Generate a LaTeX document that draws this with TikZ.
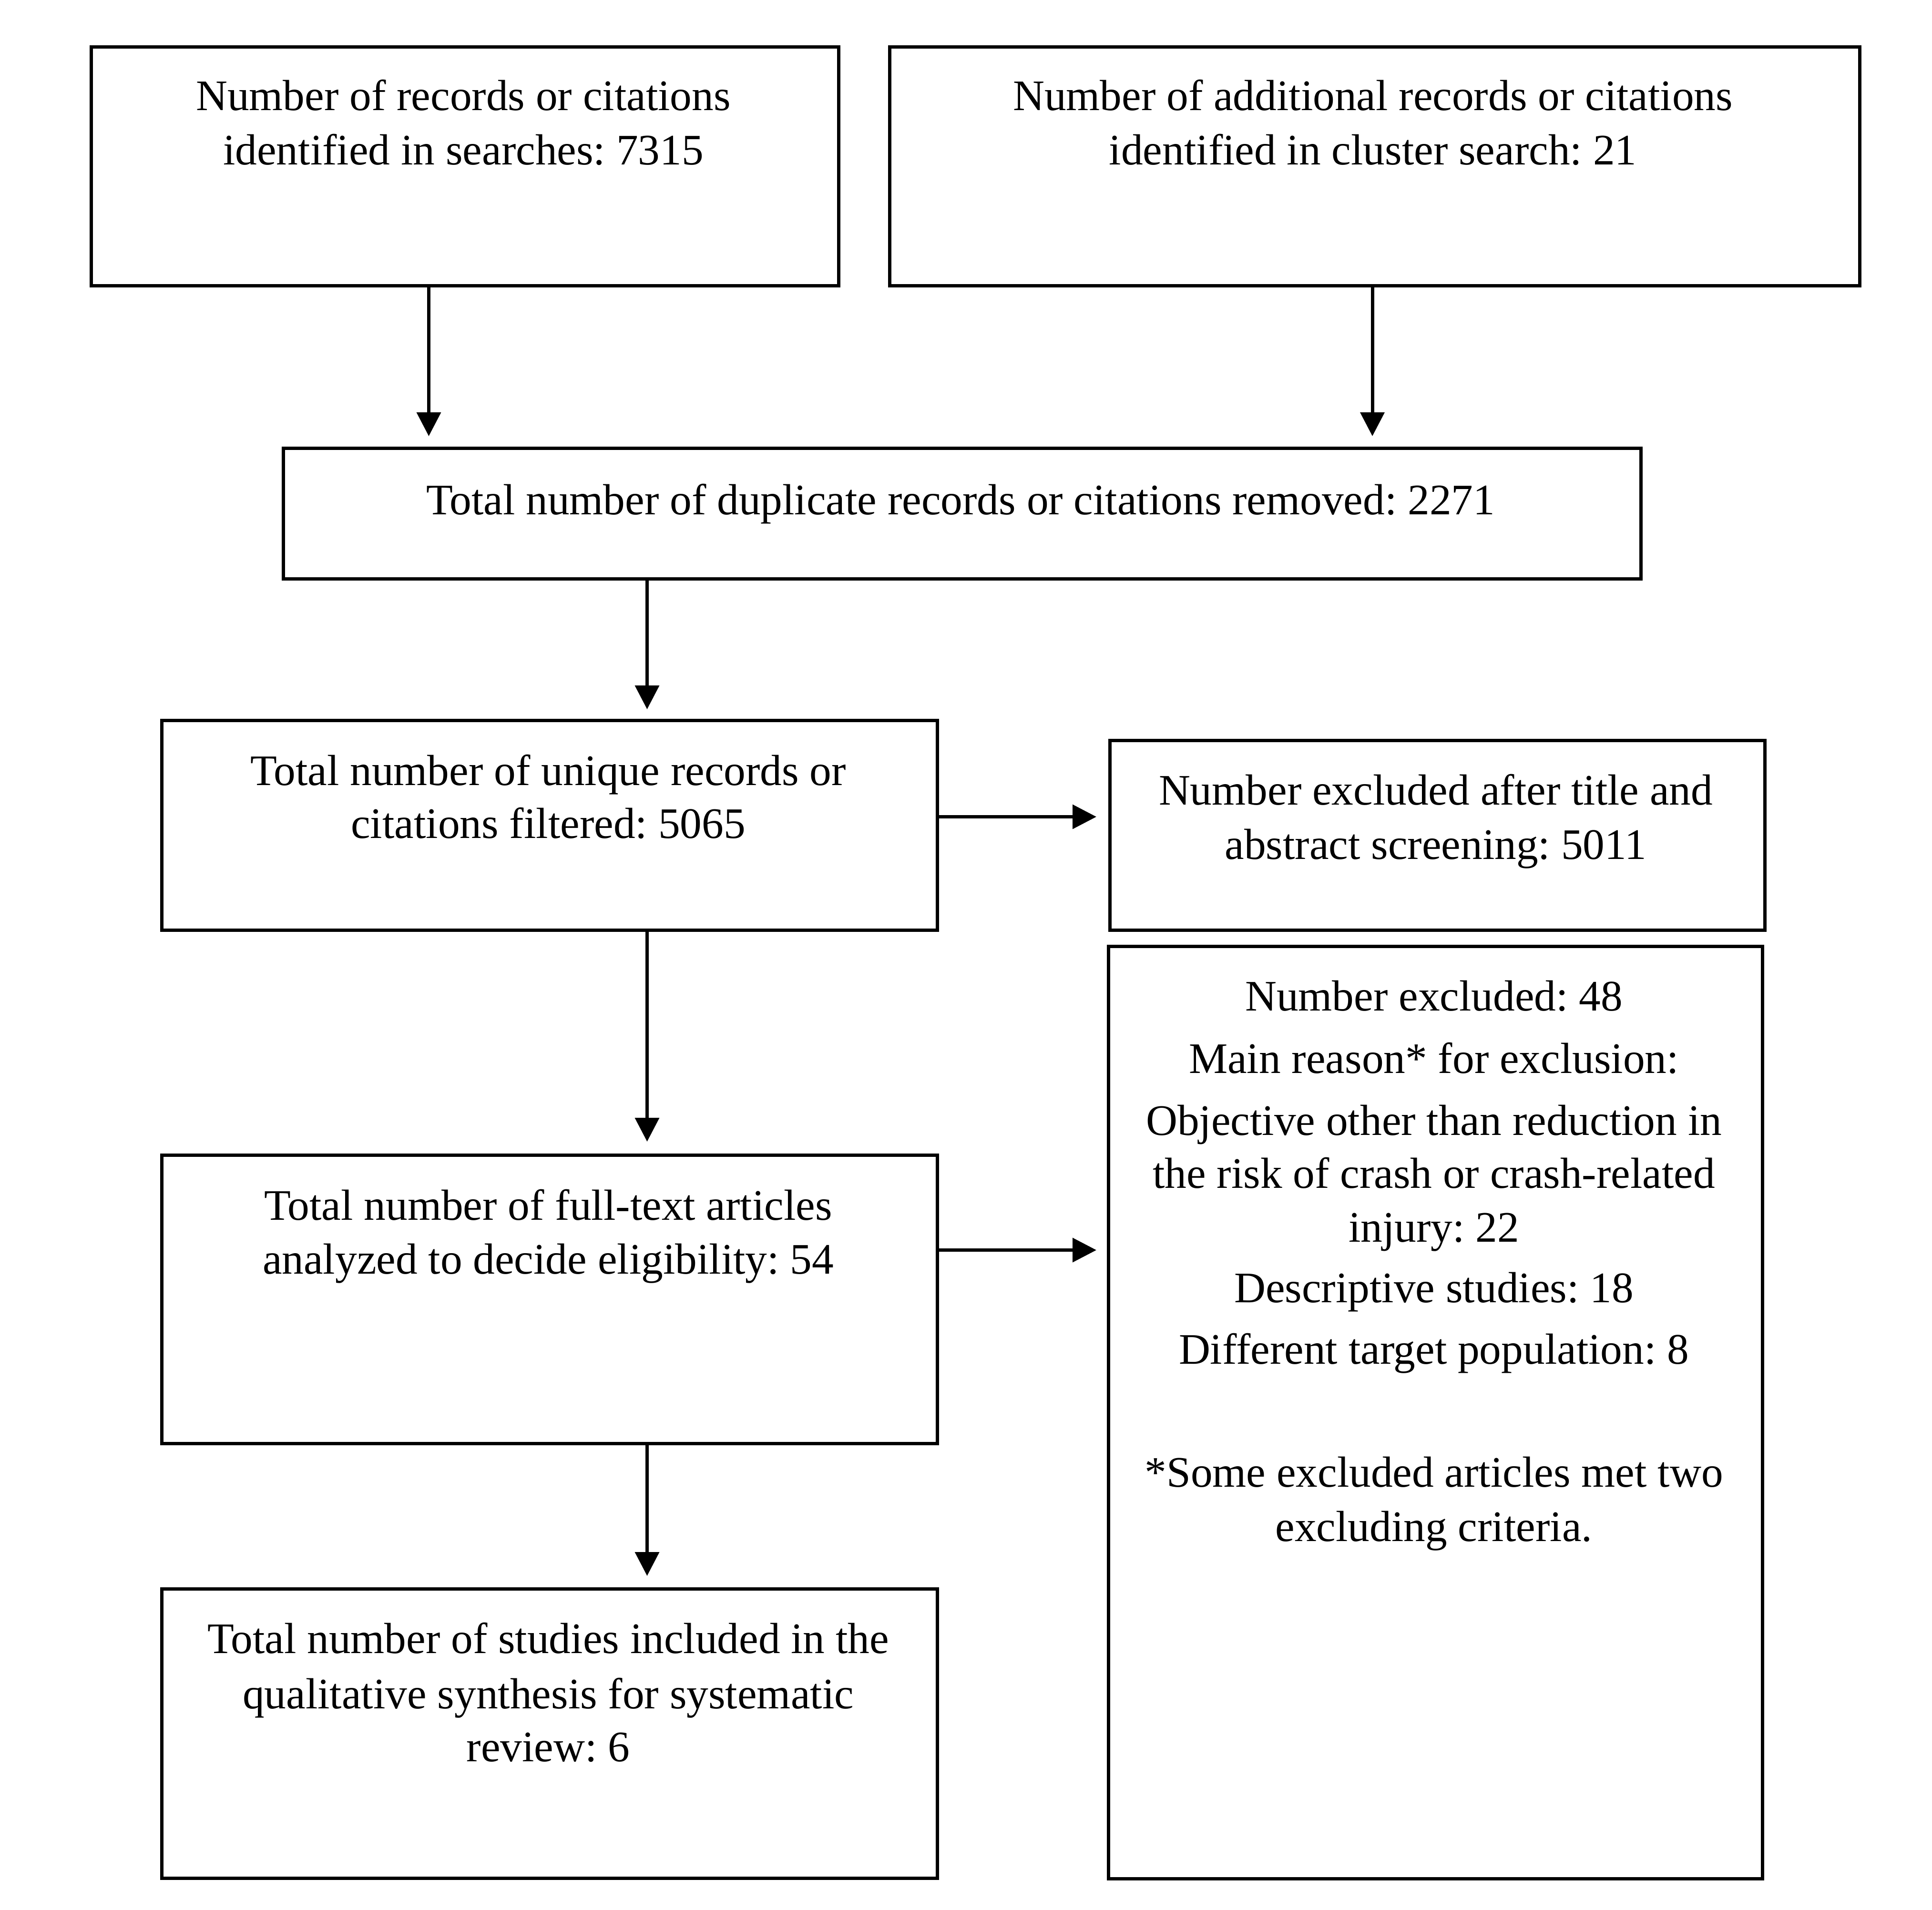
\documentclass[tikz,border=0pt]{standalone}
\usepackage{fontspec}
\setmainfont{Liberation Serif}
\usetikzlibrary{arrows.meta}
\frenchspacing
\begin{document}
\begin{tikzpicture}[
  box/.style={draw=black, line width=0.07cm, line join=miter, rectangle, inner sep=0pt, anchor=north west},
  txt/.style={anchor=base, inner sep=0pt, font=\fontsize{26}{30}\selectfont},
  arr/.style={draw=black, line width=0.07cm, -{Triangle[width=0.5cm,length=0.5cm]}},
]
\useasboundingbox (0,0) rectangle (40.53,-40.06);
\fill[white] (0,0) rectangle (40.53,-40.06);

% boxes
\node[box, minimum width=15.68cm, minimum height=5.01cm] (b1) at (1.88,-0.95) {};
\node[box, minimum width=20.35cm, minimum height=5.01cm] (b2) at (18.63,-0.95) {};
\node[box, minimum width=28.48cm, minimum height=2.74cm] (b3) at (5.91,-9.37) {};
\node[box, minimum width=16.27cm, minimum height=4.40cm] (b4) at (3.36,-15.08) {};
\node[box, minimum width=13.74cm, minimum height=3.98cm] (b5) at (23.25,-15.50) {};
\node[box, minimum width=16.27cm, minimum height=6.05cm] (b6) at (3.36,-24.20) {};
\node[box, minimum width=16.27cm, minimum height=6.07cm] (b7) at (3.36,-33.30) {};
\node[box, minimum width=13.72cm, minimum height=19.56cm] (b8) at (23.22,-19.82) {};

% texts
\node[txt] (t1a) at (9.72,-2.31) {Number of records or citations};
\node[txt] (t1b) at (9.72,-3.45) {identified in searches: 7315};
\node[txt] (t2a) at (28.80,-2.31) {Number of additional records or citations};
\node[txt] (t2b) at (28.80,-3.45) {identified in cluster search: 21};
\node[txt] (t3a) at (20.15,-10.79) {Total number of duplicate records or citations removed: 2271};
\node[txt] (t4a) at (11.50,-16.47) {Total number of unique records or};
\node[txt] (t4b) at (11.50,-17.58) {citations filtered: 5065};
\node[txt] (t5a) at (30.12,-16.88) {Number excluded after title and};
\node[txt] (t5b) at (30.12,-18.02) {abstract screening: 5011};
\node[txt] (t6a) at (11.50,-25.59) {Total number of full-text articles};
\node[txt] (t6b) at (11.50,-26.72) {analyzed to decide eligibility: 54};
\node[txt] (t7a) at (11.50,-34.68) {Total number of studies included in the};
\node[txt] (t7b) at (11.50,-35.84) {qualitative synthesis for systematic};
\node[txt] (t7c) at (11.50,-36.95) {review: 6};
\node[txt] (t8a) at (30.08,-21.20) {Number excluded: 48};
\node[txt] (t8b) at (30.08,-22.51) {Main reason* for exclusion:};
\node[txt] (t8c) at (30.08,-23.81) {Objective other than reduction in};
\node[txt] (t8d) at (30.08,-24.92) {the risk of crash or crash-related};
\node[txt] (t8e) at (30.08,-26.05) {injury: 22};
\node[txt] (t8f) at (30.08,-27.32) {Descriptive studies: 18};
\node[txt] (t8g) at (30.08,-28.61) {Different target population: 8};
\node[txt] (t8h) at (30.08,-31.19) {*Some excluded articles met two};
\node[txt] (t8i) at (30.08,-32.33) {excluding criteria.};

% connectors
\draw[arr, shorten >=0.22cm] ([xshift=-0.76cm]b1.south) -- ([xshift=-0.76cm]b1.south |- b3.north);
\draw[arr, shorten >=0.22cm] ([xshift=-0.05cm]b2.south) -- ([xshift=-0.05cm]b2.south |- b3.north);
\draw[arr, shorten >=0.20cm] ([xshift=2.045cm]b4.north |- b3.south) -- ([xshift=2.045cm]b4.north);
\draw[arr, shorten >=0.25cm] ([xshift=2.045cm]b4.south) -- ([xshift=2.045cm]b6.north);
\draw[arr, shorten >=0.24cm] ([xshift=2.045cm]b6.south) -- ([xshift=2.045cm]b7.north);
\draw[arr, shorten >=0.25cm] ([yshift=0.18cm]b4.east) -- ([yshift=0.18cm]b4.east -| b5.west);
\draw[arr, shorten >=0.22cm] ([yshift=1.035cm]b6.east) -- ([yshift=1.035cm]b6.east -| b8.west);
\end{tikzpicture}
\end{document}
